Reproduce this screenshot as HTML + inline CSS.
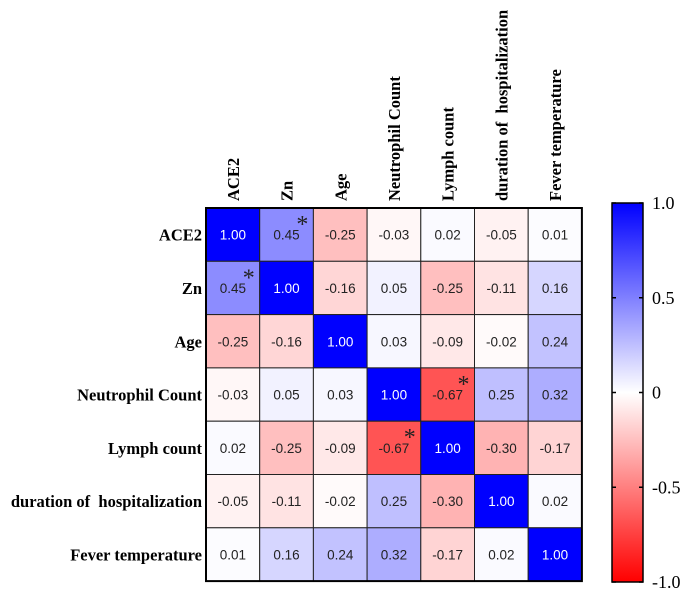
<!DOCTYPE html>
<html><head><meta charset="utf-8"><style>
body{margin:0;background:#fff;width:689px;height:594px;overflow:hidden}
svg text{font-family:"Liberation Serif",serif;white-space:pre}
.cell{font-family:"Liberation Sans",sans-serif;font-size:13.5px}
</style></head><body>
<svg id="chart" width="689" height="594"></svg>
<script>
const labels = ["ACE2","Zn","Age","Neutrophil Count","Lymph count","duration of  hospitalization","Fever temperature"];
const values = [
 [1.00,0.45,-0.25,-0.03,0.02,-0.05,0.01],
 [0.45,1.00,-0.16,0.05,-0.25,-0.11,0.16],
 [-0.25,-0.16,1.00,0.03,-0.09,-0.02,0.24],
 [-0.03,0.05,0.03,1.00,-0.67,0.25,0.32],
 [0.02,-0.25,-0.09,-0.67,1.00,-0.30,-0.17],
 [-0.05,-0.11,-0.02,0.25,-0.30,1.00,0.02],
 [0.01,0.16,0.24,0.32,-0.17,0.02,1.00]];
const significant = [[0,1],[1,0],[3,4],[4,3]];
const cbTicks = [1.0,0.5,0,-0.5,-1.0];
const cbTickLabels = ["1.0","0.5","0","-0.5","-1.0"];

const NS="http://www.w3.org/2000/svg";
const svg=document.getElementById('chart');
function mk(t,a,p){const e=document.createElementNS(NS,t);for(const k in a)e.setAttribute(k,a[k]);(p||svg).appendChild(e);return e;}
const x0=206,y0=208,cw=53.7,ch=53.3;
const xs=i=>x0+i*cw, ys=i=>y0+i*ch;
function color(v){
  if(v>=0){const c=Math.round(255*(1-v));return `rgb(${c},${c},255)`;}
  const c=Math.round(255*(1+v));return `rgb(255,${c},${c})`;
}
const n=labels.length;
for(let r=0;r<n;r++)for(let c=0;c<n;c++){
  const v=values[r][c];
  const rect=mk('rect',{x:xs(c),y:ys(r),width:cw,height:ch,fill:color(v),stroke:'#222','stroke-width':1});
  
  
  const t=mk('text',{x:xs(c)+cw/2,y:ys(r)+ch/2+5,'text-anchor':'middle',class:'cell',fill:Math.abs(v)>0.6&&v>0?'#fff':'#222'});
  t.textContent=v.toFixed(2);
  
  
}
mk('rect',{x:x0,y:y0,width:cw*n,height:ch*n,fill:'none',stroke:'#000','stroke-width':2});
significant.forEach(([r,c])=>{
  const s=mk('text',{x:xs(c)+cw-17,y:ys(r)+24,'font-size':'24px',fill:'#222','font-family':'Liberation Sans, sans-serif'});
  s.textContent='*';
  
  
});
labels.forEach((l,i)=>{
  const t=mk('text',{x:x0-4,y:ys(i)+ch/2+6,'text-anchor':'end','font-size':'16.5px','font-weight':'bold'});
  t.textContent=l;
  
  
  const cx=xs(i)+cw/2+6;
  const u=mk('text',{x:cx,y:201,transform:`rotate(-90 ${cx} 201)`,'font-size':'16.5px','font-weight':'bold'});
  u.textContent=l;
  
  
});
const cbx=612,cbw=31,cbt=203,cbb=582;
const defs=mk('defs',{});
const g=mk('linearGradient',{id:'cb',x1:0,y1:0,x2:0,y2:1},defs);
mk('stop',{offset:'0','stop-color':'#0000ff'},g);
mk('stop',{offset:'0.5','stop-color':'#ffffff'},g);
mk('stop',{offset:'1','stop-color':'#ff0000'},g);
const cb=mk('rect',{x:cbx,y:cbt,width:cbw,height:cbb-cbt,fill:'url(#cb)',stroke:'#000','stroke-width':1.5});


const cy=v=>cbt+(1-v)/2*(cbb-cbt);
cbTicks.forEach((v,i)=>{
  const y=cy(v);
  mk('line',{x1:cbx,x2:cbx+4,y1:y,y2:y,stroke:'#000','stroke-width':1.5});
  mk('line',{x1:cbx+cbw-4,x2:cbx+cbw,y1:y,y2:y,stroke:'#000','stroke-width':1.5});
  const t=mk('text',{x:652,y:y+6,'font-size':'18px'});
  t.textContent=cbTickLabels[i];
  
  
});
</script>
</body></html>
